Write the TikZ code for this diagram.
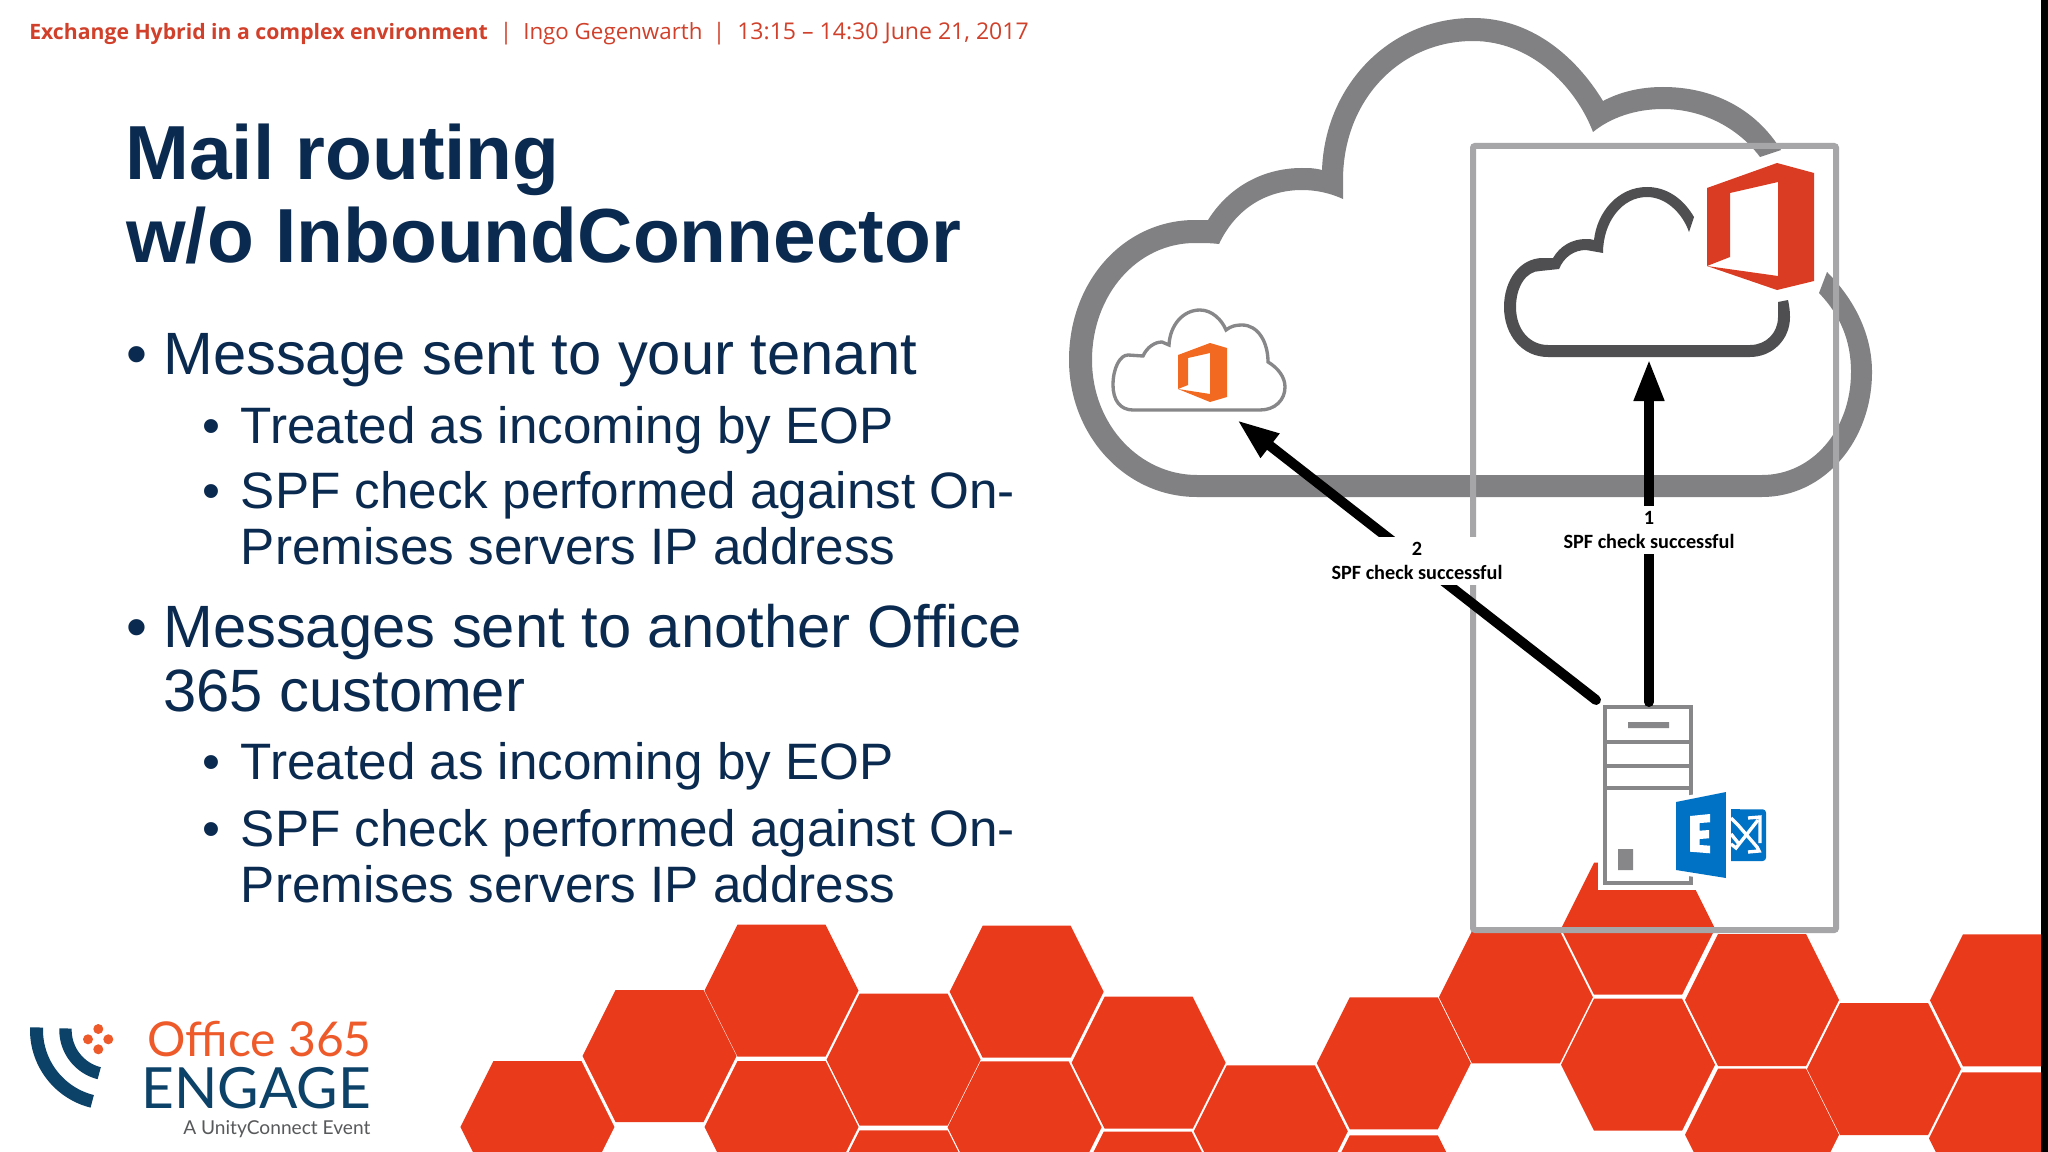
\documentclass[tikz,border=0pt]{standalone}
\usepackage{fontspec}
\setmainfont{Liberation Sans}
\newfontfamily\hdfont{Open Sans}
\newfontfamily\lblfont{Carlito}
\newfontfamily\logofont{Lato}
\usetikzlibrary{arrows.meta}
\definecolor{navy}{HTML}{0B2A4F}
\definecolor{hdred}{HTML}{D0402A}
\definecolor{hexred}{HTML}{E93B1C}
\definecolor{cloudgray}{HTML}{818083}
\definecolor{darkcloud}{HTML}{4F4E50}
\definecolor{boxgray}{HTML}{A6A5A8}
\definecolor{srvgray}{HTML}{878688}
\definecolor{offred}{HTML}{D93C22}
\definecolor{offorange}{HTML}{F26A21}
\definecolor{exblue}{HTML}{0072C6}
\definecolor{lognavy}{HTML}{0C4168}
\definecolor{logorange}{HTML}{EE5A2A}
\definecolor{loggray}{HTML}{58595B}
\tikzset{
  hexa/.pic={\fill[hexred] (-44,-66) -- (44,-66) -- (77,0) -- (44,66) -- (-44,66) -- (-77,0) -- cycle;},
  tl1/.style={anchor=base west,inner sep=0pt,text=navy,font=\fontsize{44.8}{44.8}\selectfont},
  tl2/.style={anchor=base west,inner sep=0pt,text=navy,font=\fontsize{38.4}{38.4}\selectfont},
  ttl/.style={anchor=base west,inner sep=0pt,text=navy,font=\fontsize{57.5}{57.5}\selectfont\bfseries},
  hd/.style={anchor=base west,inner sep=0pt,text=hdred,font=\hdfont\fontsize{17}{17}\selectfont},
  hdb/.style={anchor=base west,inner sep=0pt,text=hdred,font=\hdfont\bfseries\fontsize{15.9}{15.9}\selectfont},
  lbl/.style={fill=white,inner sep=0pt,align=center,minimum width=135pt,minimum height=36pt,font=\lblfont\bfseries\fontsize{15.2}{18}\selectfont},
  flow/.style={line width=7.5pt,draw=black,-{Triangle[length=31.5pt,width=21pt]}},
  srvline/.style={draw=srvgray,line width=3pt},
}
\begin{document}
\begin{tikzpicture}[x=0.75pt,y=-0.75pt]
\clip (0,0) rectangle (2048,1152);
\fill[white] (0,0) rectangle (2048,1152);
% hexagons
\foreach \cx/\cy in {537.4/1127,659.5/1056,781.5/990.7,781.5/1127,903.6/1059.7,1026.7/991.7,1024.6/1127.3,903.6/1196.3,1148.7/1062.7,1270.8/1131.3,1147.7/1197.7,1393.8/1063.3,1393.8/1201.3,1515.9/997.3,1638/1064.7,1638/928.7,1762/1000,1762/1134.7,1884/1069,2007/1000.3,2006/1138.3}
  \pic at (\cx,\cy) {hexa};
\fill[black] (2041,0) rectangle (2048,1152);
\fill[white] (1598,850) rectangle (1702,890);
% big cloud
\fill[cloudgray] (1781,150) .. controls (1755,108) and (1712,87) .. (1663,87) .. controls (1640,87) and (1620,92) .. (1603,101)
 .. controls (1575,55) and (1530,18) .. (1473,18) .. controls (1390,18) and (1325,85) .. (1322,170)
 .. controls (1315,168) and (1308,168) .. (1302,168) .. controls (1262,168) and (1228,188) .. (1208,220)
 .. controls (1203,220) and (1200,220) .. (1195,220) .. controls (1125,220) and (1069,280) .. (1069,360)
 .. controls (1069,435) and (1125,497) .. (1197,497) -- (1762,497)
 .. controls (1825,497) and (1872,440) .. (1872,372) .. controls (1872,335) and (1855,300) .. (1827,272)
 -- (1819,293) .. controls (1840,315) and (1851,340) .. (1851,372) .. controls (1851,430) and (1812,475) .. (1762,475)
 -- (1197,475) .. controls (1140,475) and (1092,425) .. (1092,360) .. controls (1092,295) and (1137,243) .. (1195,243)
 .. controls (1203,243) and (1211,243) .. (1219,244) .. controls (1235,210) and (1265,190) .. (1302,190)
 .. controls (1316,190) and (1330,193) .. (1343,199) -- (1343,180) .. controls (1343,100) and (1400,41) .. (1473,41)
 .. controls (1530,41) and (1575,85) .. (1593,132) .. controls (1610,118) and (1635,109) .. (1663,109)
 .. controls (1705,109) and (1740,130) .. (1760,157) -- cycle;
% tenant rectangle
\draw[boxgray,line width=4.5pt,rounded corners=1.5pt] (1473,146) rectangle (1836,930);
% dark inner cloud
\fill[darkcloud] (1694,217) .. controls (1684,200) and (1668,187) .. (1647,187) .. controls (1618,187) and (1597,212) .. (1594,240)
 .. controls (1591,239) and (1589,239) .. (1586,239) .. controls (1572,239) and (1560,246) .. (1553,258) -- (1543,258)
 .. controls (1520,258) and (1504,280) .. (1504,307) .. controls (1504,335) and (1522,357) .. (1548,357) -- (1750,357)
 .. controls (1772,357) and (1790,340) .. (1790,317) .. controls (1790,310) and (1789,305) .. (1788,300) -- (1778,302)
 .. controls (1778,307) and (1778,312) .. (1778,317) .. controls (1778,333) and (1766,345) .. (1750,345) -- (1548,345)
 .. controls (1530,345) and (1516,330) .. (1516,307) .. controls (1516,287) and (1526,271) .. (1540,271) -- (1559,269)
 .. controls (1564,257) and (1574,250) .. (1586,250) -- (1603,253) .. controls (1603,222) and (1622,197) .. (1647,197)
 .. controls (1665,197) and (1682,212) .. (1689,232) -- cycle;
% big office logo
\fill[offred,even odd rule] (1707,188) -- (1777,163) -- (1814,173) -- (1814,281) -- (1777,290) -- (1707,266) -- cycle
 (1730,193) -- (1778,182) -- (1778,276) -- (1707,266) -- (1730,257) -- cycle;
% small cloud
\draw[srvgray,line width=2.5pt] (1133,410) .. controls (1120,410) and (1113,400) .. (1113,385) .. controls (1113,368) and (1120,355) .. (1128,355)
 -- (1143,356) .. controls (1147,347) and (1155,342) .. (1162,342) -- (1169,345) .. controls (1170,325) and (1183,310) .. (1200,310)
 .. controls (1212,310) and (1222,320) .. (1226,330) .. controls (1231,326) and (1236,325) .. (1242,325)
 .. controls (1258,325) and (1268,342) .. (1268,362) .. controls (1278,368) and (1285,377) .. (1285,387)
 .. controls (1285,400) and (1275,410) .. (1260,410) -- cycle;
\fill[offorange,even odd rule] (1178,355) -- (1210,343) -- (1227,348) -- (1227,397) -- (1210,402) -- (1178,389) -- cycle
 (1188,358) -- (1210,353) -- (1210,394) -- (1178,389) -- (1188,385) -- cycle;
% server
\node[srvline,fill=white,minimum width=64.5pt,minimum height=132pt,inner sep=0pt,outer sep=0pt] (server) at (1648,795) {};
\draw[srvline] (1605,742) -- (1691,742) (1605,766) -- (1691,766) (1605,788) -- (1691,788);
\fill[srvgray] (1628,722) rectangle (1669,728) (1618,849) rectangle (1633,870);
% exchange logo
\fill[white,draw=white,line width=6pt] (1676,802) -- (1726,792) -- (1726,878) -- (1676,870) -- cycle;
\fill[exblue] (1676,802) -- (1726,792) -- (1726,878) -- (1676,870) -- cycle;
\fill[white] (1690,816) -- (1710,814) -- (1710,822.3) -- (1699.7,823) -- (1699.7,830.7) -- (1709,830) -- (1709,838.3) -- (1699.7,839) -- (1699.7,845) -- (1710,845.7) -- (1710,853.3) -- (1690,851.7) -- cycle;
\fill[exblue,rounded corners=2.5pt] (1725,809.3) rectangle (1766,861);
\fill[exblue] (1731,809.3) rectangle (1740,861);
\begin{scope}[white,line width=2.5pt]
\draw (1731,818) -- (1738,825) -- (1757,847) -- (1759,851) -- (1748,852);
\draw (1748,818) -- (1760,817) -- (1760,843);
\draw (1758,820) -- (1736,848) -- (1731,844);
\draw (1731,834) -- (1739,844);
\end{scope}
\fill[white] (1726,792) rectangle (1731,878);
% connectors
\coordinate (tipa) at (1649,359);
\coordinate (tipb) at (1237,420);
\coordinate (srvb) at (1596,700);
\draw[flow,line cap=round] (server.north) ++(1,-5) -- (tipa);
\draw[flow,line cap=round] (srvb) -- (tipb);
\node[lbl] (laba) at (1649,530) {1\\SPF check successful};
\node[lbl] (labb) at (1417,560.5) {2\\SPF check successful};
% header
\node[hdb] (h1) at (29,40) {Exchange Hybrid in a complex environment};
\node[hd] (hs1) at (499.5,40) {|};
\node[hd] (h2) at (523,40) {\fontsize{16.75}{16.75}\selectfont Ingo Gegenwarth};
\node[hd] (hs2) at (712.5,40) {|};
\node[hd] (h3) at (737,40) {\fontsize{17.3}{17.3}\selectfont 13:15 – 14:30 June 21, 2017};
% title
\node[ttl] (t1) at (125,179.7) {Mail routing};
\node[ttl] (t2) at (126,262) {w/o InboundConnector};
% body
\node[tl1] (b1) at (126,374) {•};
\node[tl1] (x1) at (163,374) {Message sent to your tenant};
\node[tl2] (b2) at (202,443) {•};
\node[tl2] (x2) at (240.7,443) {Treated as incoming by EOP};
\node[tl2] (b3) at (202,508) {•};
\node[tl2] (x3) at (240.7,508) {SPF check performed against On-};
\node[tl2] (x4) at (240.7,564) {Premises servers IP address};
\node[tl1] (b4) at (126,647) {•};
\node[tl1] (x5) at (163,647) {Messages sent to another Office};
\node[tl1] (x6) at (163,711) {365 customer};
\node[tl2] (b5) at (202,779) {•};
\node[tl2] (x7) at (240.7,779) {Treated as incoming by EOP};
\node[tl2] (b6) at (202,846) {•};
\node[tl2] (x8) at (240.7,846) {SPF check performed against On-};
\node[tl2] (x9) at (240.7,902) {Premises servers IP address};
% logo
\draw[lognavy,line width=9.75pt,domain=182:104,samples=40,variable=\t] plot ({110+73.5*cos(\t)},{1030+73.5*sin(\t)});
\draw[lognavy,line width=9.3pt,domain=182:104,samples=40,variable=\t] plot ({110+44.5*cos(\t)},{1030+44.5*sin(\t)});
\fill[logorange] (98.3,1029) circle[radius=5] (88,1039.3) circle[radius=5] (108.3,1039.3) circle[radius=5] (98.3,1049.3) circle[radius=5];
\node[anchor=base west,inner sep=0pt,text=logorange,font=\logofont\fontsize{36}{36}\selectfont] (lg1) at (147,1056) {Office 365};
\node[anchor=base west,inner sep=0pt,text=lognavy,font=\logofont\fontsize{42.6}{42.6}\selectfont] (lg2) at (141.5,1108) {ENGAGE};
\node[anchor=base west,inner sep=0pt,text=loggray,font=\logofont\fontsize{14.35}{14.35}\selectfont] (lg3) at (183,1134) {A UnityConnect Event};
\end{tikzpicture}
\end{document}
